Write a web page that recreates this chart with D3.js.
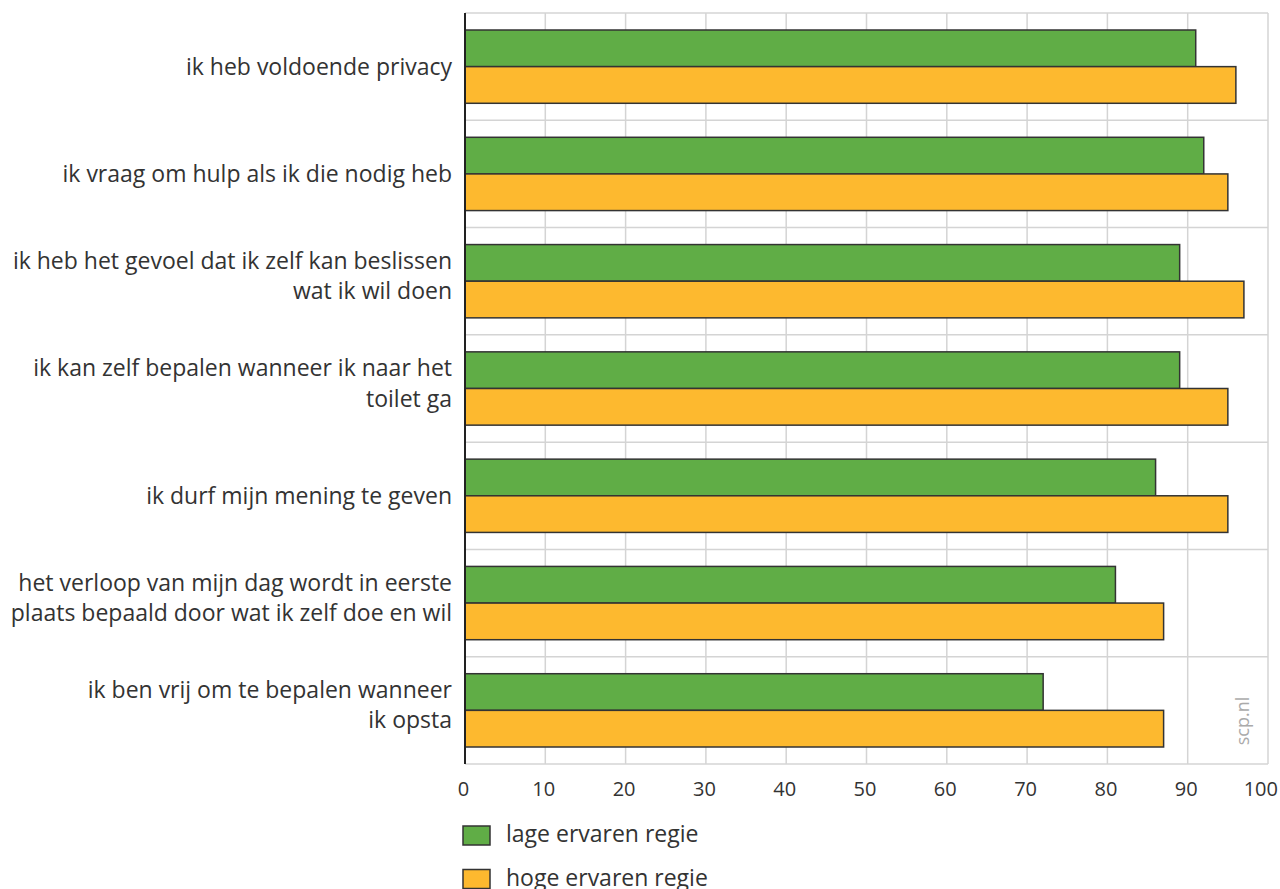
<!DOCTYPE html>
<html><head><meta charset="utf-8">
<script src="https://cdn.jsdelivr.net/npm/d3@7"></script>
<style>body{margin:0;background:#fff}svg{display:block}</style>
</head><body>
<svg id="c" width="1280" height="889"></svg>
<script>
const categories = [
  ["ik heb voldoende privacy"],
  ["ik vraag om hulp als ik die nodig heb"],
  ["ik heb het gevoel dat ik zelf kan beslissen", "wat ik wil doen"],
  ["ik kan zelf bepalen wanneer ik naar het", "toilet ga"],
  ["ik durf mijn mening te geven"],
  ["het verloop van mijn dag wordt in eerste", "plaats bepaald door wat ik zelf doe en wil"],
  ["ik ben vrij om te bepalen wanneer", "ik opsta"]
];
const seriesNames = ["lage ervaren regie", "hoge ervaren regie"];
const lage = [91, 92, 89, 89, 86, 81, 72];
const hoge = [96, 95, 97, 95, 95, 87, 87];
const ticks = [0,10,20,30,40,50,60,70,80,90,100];
const colors = ["#60ad46", "#fdb92f"];

const svg = d3.select("#c");
const x = d3.scaleLinear().domain([0,100]).range([465,1268]);
const y0 = d3.scaleBand().domain(d3.range(categories.length)).range([13,764]);
const bw = y0.bandwidth();
const y1 = d3.scaleBand().domain([0,1]).range([17, bw-17]);
const font = "'Open Sans', sans-serif";

// grid vertical
svg.append("g").selectAll("line").data(ticks).join("line")
  .attr("x1", d=>x(d)).attr("x2", d=>x(d)).attr("y1",13).attr("y2",764)
  .attr("stroke","#d4d4d4").attr("stroke-width",1.5);
// grid horizontal at band boundaries
const bounds = d3.range(categories.length+1).map(i => i<categories.length ? y0(i) : y0(i-1)+bw);
svg.append("g").selectAll("line").data(bounds).join("line")
  .attr("x1", x(0)).attr("x2", x(100)).attr("y1", d=>d).attr("y2", d=>d)
  .attr("stroke","#d4d4d4").attr("stroke-width",1.5);

// bars
const data = categories.map((c,i)=>({i, vals:[lage[i], hoge[i]]}));
const g = svg.append("g").selectAll("g").data(data).join("g")
  .attr("transform", d=>`translate(0,${y0(d.i)})`);
g.selectAll("rect").data(d=>d.vals.map((v,k)=>({v,k}))).join("rect")
  .attr("x", x(0)).attr("y", d=>y1(d.k)).attr("width", d=>x(d.v)-x(0)).attr("height", y1.bandwidth())
  .attr("fill", d=>colors[d.k]).attr("stroke","#333").attr("stroke-width",1.5);

// axis line
svg.append("line").attr("x1",x(0)).attr("x2",x(0)).attr("y1",13).attr("y2",764)
  .attr("stroke","#222").attr("stroke-width",2);

// category labels
const lh = 30.5;
const lab = svg.append("g").selectAll("text").data(categories).join("text")
  .attr("x", 452).attr("text-anchor","end").attr("font-family",font).attr("font-size",23).attr("fill","#333")
  .attr("y", (d,i)=> y0(i)+bw/2 + 8 - (d.length-1)*20.5);
lab.selectAll("tspan").data(d=>d).join("tspan")
  .attr("x",452).attr("dy",(d,j)=>j===0?0:lh).text(d=>d);

// x tick labels
svg.append("g").selectAll("text").data(ticks).join("text")
  .attr("x", d=> d===100 ? 1278 : x(d)-1.5).attr("y", 796)
  .attr("text-anchor", d=> d===100 ? "end" : "middle")
  .attr("font-family",font).attr("font-size",20).attr("fill","#333").text(d=>d);

// legend
const leg = svg.append("g").selectAll("g").data(seriesNames).join("g")
  .attr("transform",(d,i)=>`translate(463,${826+i*43.5})`);
leg.append("rect").attr("width",27).attr("height",19).attr("fill",(d,i)=>colors[i]).attr("stroke","#333").attr("stroke-width",1.5);
leg.append("text").attr("x",43).attr("y",16)
  .attr("font-family",font).attr("font-size",23).attr("fill","#333").text(d=>d);

// watermark
svg.append("text").attr("transform","translate(1249,721) rotate(-90)").attr("text-anchor","middle")
  .attr("font-family",font).attr("font-size",18).attr("fill","#aaa").text("scp.nl");
</script>
</body></html>
